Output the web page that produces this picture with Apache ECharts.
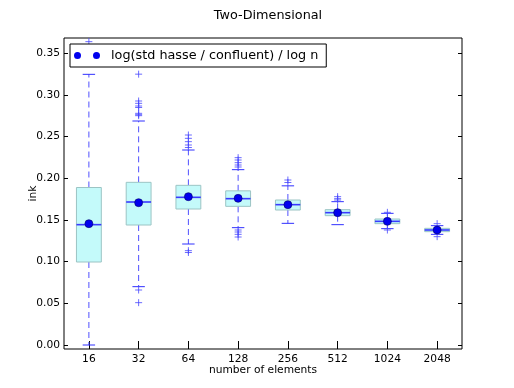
<!DOCTYPE html>
<html>
<head>
<meta charset="utf-8">
<script src="https://cdn.jsdelivr.net/npm/echarts@6/dist/echarts.min.js"></script>
<style>html,body{margin:0;padding:0;background:#fff;}#c{width:514px;height:388px;}</style>
</head>
<body>
<div id="c"></div>
<script>
// ---- data ----
var categories = ['16', '32', '64', '128', '256', '512', '1024', '2048'];
var whiskerLow = [0.000, 0.070, 0.1212, 0.1408, 0.146, 0.1444, 0.1396, 0.1328];
var q1 = [0.0996, 0.144, 0.1632, 0.1664, 0.162, 0.1552, 0.1456, 0.136];
var medians = [0.1444, 0.1716, 0.1772, 0.1756, 0.1684, 0.1588, 0.1484, 0.138];
var q3 = [0.189, 0.1952, 0.1916, 0.185, 0.174, 0.1624, 0.1512, 0.140];
var whiskerHigh = [0.3248, 0.2688, 0.234, 0.2104, 0.191, 0.172, 0.158, 0.1432];
var means = [0.1456, 0.1708, 0.178, 0.176, 0.1684, 0.1588, 0.1484, 0.138];
var fliers = [
  [0.364],
  [0.325, 0.2928, 0.290, 0.2868, 0.285, 0.278, 0.2764, 0.2752, 0.066, 0.0508],
  [0.252, 0.248, 0.244, 0.240, 0.237, 0.1132, 0.111],
  [0.2248, 0.222, 0.2188, 0.216, 0.2136, 0.138, 0.1356, 0.1328, 0.1296],
  [0.198, 0.195],
  [0.178, 0.1756, 0.174],
  [0.1592, 0.138],
  [0.1456, 0.130]
];
var yTicks = [0, 0.05, 0.10, 0.15, 0.20, 0.25, 0.30, 0.35];
var seriesName = 'log(std hasse / confluent) / log n';

// ---- build ----
var boxData = categories.map(function (c, i) {
  return [i, whiskerLow[i], q1[i], medians[i], q3[i], whiskerHigh[i]];
});
var flierData = [];
fliers.forEach(function (arr, i) { arr.forEach(function (v) { flierData.push([i, v]); }); });
var meanData = means.map(function (v, i) { return [i, v]; });

var FONT = 'DejaVu Sans';
var chart = echarts.init(document.getElementById('c'), null, {renderer: 'canvas'});

function renderBox(params, api) {
  var x = api.value(0);
  var pLo = api.coord([x, api.value(1)]);
  var pQ1 = api.coord([x, api.value(2)]);
  var pMed = api.coord([x, api.value(3)]);
  var pQ3 = api.coord([x, api.value(4)]);
  var pHi = api.coord([x, api.value(5)]);
  var bw = api.size([1, 0])[0] * 0.5;
  var cx = pMed[0];
  var capW = bw * 0.5;
  var wStyle = {stroke: '#5050ff', fill: null, lineWidth: 1, lineDash: [6, 4]};
  var cStyle = {stroke: '#3030ff', fill: null, lineWidth: 1};
  return {
    type: 'group',
    children: [
      {type: 'line', shape: {x1: cx, y1: pQ3[1], x2: cx, y2: pHi[1]}, style: wStyle},
      {type: 'line', shape: {x1: cx, y1: pQ1[1], x2: cx, y2: pLo[1]}, style: wStyle},
      {type: 'line', shape: {x1: cx - capW / 2, y1: pHi[1], x2: cx + capW / 2, y2: pHi[1]}, style: cStyle},
      {type: 'line', shape: {x1: cx - capW / 2, y1: pLo[1], x2: cx + capW / 2, y2: pLo[1]}, style: cStyle},
      {type: 'rect', shape: {x: cx - bw / 2, y: pQ3[1], width: bw, height: pQ1[1] - pQ3[1]},
        style: {fill: '#c4fafa', stroke: '#9cc4c4', lineWidth: 1}},
      {type: 'line', shape: {x1: cx - bw / 2, y1: pMed[1], x2: cx + bw / 2, y2: pMed[1]},
        style: {stroke: '#3a3aff', fill: null, lineWidth: 1.6}}
    ]
  };
}

var option = {
  animation: false,
  backgroundColor: '#fff',
  title: {
    text: 'Two-Dimensional', left: 263, top: 4, textAlign: 'center',
    textStyle: {fontFamily: FONT, fontSize: 12.8, fontWeight: 'normal', color: '#000'}
  },
  legend: {
    data: [{name: seriesName}],
    left: 70, top: 44, orient: 'horizontal',
    padding: [5, 8, 5, 4],
    borderColor: '#000', borderWidth: 1, backgroundColor: '#fff',
    itemWidth: 32, itemHeight: 7,
    icon: 'path://M0,3.5a3.5,3.5 0 1,0 7,0a3.5,3.5 0 1,0 -7,0ZM19,3.5a3.5,3.5 0 1,0 7,0a3.5,3.5 0 1,0 -7,0ZM31.9,3.5L32,3.5L32,3.6Z',
    itemStyle: {color: '#0000ee', borderWidth: 0},
    textStyle: {fontFamily: FONT, fontSize: 12.8, color: '#000'},
    selectedMode: false,
    z: 10
  },
  grid: {left: 64, top: 38, width: 398, height: 311, show: true, borderColor: '#000', borderWidth: 1, backgroundColor: 'transparent'},
  xAxis: [{
    type: 'category', data: categories, position: 'bottom',
    name: 'number of elements', nameLocation: 'middle', nameGap: 16, nameMoveOverlap: false,
    nameTextStyle: {fontFamily: FONT, fontSize: 10.67, color: '#000'},
    axisLine: {show: false},
    axisTick: {show: true, inside: true, alignWithLabel: true, length: 4, lineStyle: {color: '#000'}},
    axisLabel: {fontFamily: FONT, fontSize: 10.67, color: '#000', margin: 5},
    splitLine: {show: false}
  }, {
    type: 'category', data: categories, position: 'top',
    axisLine: {show: false},
    axisTick: {show: true, inside: true, alignWithLabel: true, length: 4, lineStyle: {color: '#000'}},
    axisLabel: {show: false},
    splitLine: {show: false}
  }],
  yAxis: [{
    type: 'value', min: -0.0048, max: 0.3684, position: 'left',
    name: 'ink', nameLocation: 'middle', nameGap: 25, nameRotate: 90, nameMoveOverlap: false,
    nameTextStyle: {fontFamily: FONT, fontSize: 10.67, color: '#000'},
    axisLine: {show: false},
    axisTick: {show: true, inside: true, length: 4, customValues: yTicks, lineStyle: {color: '#000'}},
    axisLabel: {fontFamily: FONT, fontSize: 10.67, color: '#000', margin: 4, customValues: yTicks,
      formatter: function (v) { return v.toFixed(2); }},
    splitLine: {show: false}
  }, {
    type: 'value', min: -0.0048, max: 0.3684, position: 'right',
    axisLine: {show: false},
    axisTick: {show: true, inside: true, length: 4, customValues: yTicks, lineStyle: {color: '#000'}},
    axisLabel: {show: false},
    splitLine: {show: false}
  }],
  series: [{
    type: 'custom', name: 'boxes', xAxisIndex: 0, yAxisIndex: 0,
    renderItem: renderBox, data: boxData, encode: {x: 0, y: [1, 2, 3, 4, 5]}, z: 2, silent: true
  }, {
    type: 'scatter', name: 'fliers', xAxisIndex: 0, yAxisIndex: 0, data: flierData,
    symbol: 'path://M5,0L5,10M0,5L10,5', symbolSize: 7,
    itemStyle: {color: 'rgba(0,0,0,0)', borderColor: '#4646ff', borderWidth: 1},
    z: 3, silent: true
  }, {
    type: 'scatter', name: seriesName, xAxisIndex: 0, yAxisIndex: 0, data: meanData,
    symbol: 'circle', symbolSize: 8,
    itemStyle: {color: '#0000ee', borderColor: '#000066', borderWidth: 0.6, opacity: 1},
    z: 5, silent: true
  }]
};
chart.setOption(option);
</script>
</body>
</html>
